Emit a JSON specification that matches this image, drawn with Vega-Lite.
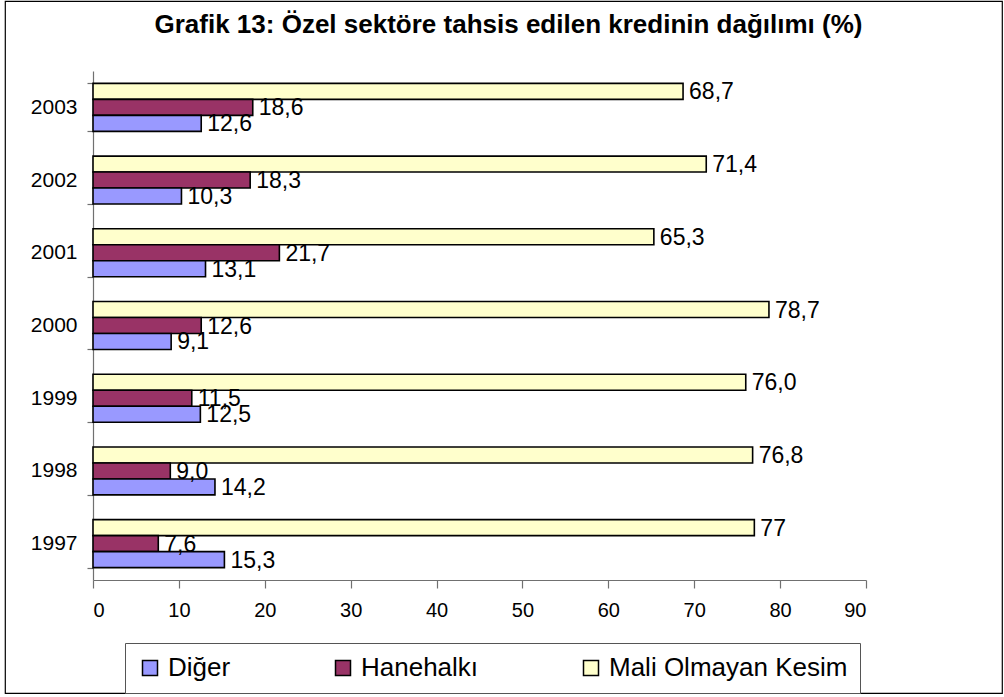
{
  "$schema": "https://vega.github.io/schema/vega-lite/v6.json",
  "width": 997,
  "height": 692,
  "autosize": {"type": "none"},
  "padding": {"left": 5, "top": 1, "right": 2, "bottom": 4},
  "background": "white",
  "title": {
    "text": "Grafik 13: Özel sektöre tahsis edilen kredinin dağılımı (%)",
    "font": "Liberation Sans",
    "fontSize": 26,
    "fontWeight": "bold",
    "color": "black",
    "anchor": "middle",
    "frame": "group",
    "baseline": "top",
    "offset": -48,
    "dx": 5
  },
  "config": {
    "view": {"stroke": "black", "strokeWidth": 1.2, "fill": "white"},
    "font": "Liberation Sans"
  },
  "data": {
    "values": [
      {"year": "2003", "seri": "Mali Olmayan Kesim", "value": 68.7, "label": "68,7"},
      {"year": "2003", "seri": "Hanehalkı", "value": 18.6, "label": "18,6"},
      {"year": "2003", "seri": "Diğer", "value": 12.6, "label": "12,6"},
      {"year": "2002", "seri": "Mali Olmayan Kesim", "value": 71.4, "label": "71,4"},
      {"year": "2002", "seri": "Hanehalkı", "value": 18.3, "label": "18,3"},
      {"year": "2002", "seri": "Diğer", "value": 10.3, "label": "10,3"},
      {"year": "2001", "seri": "Mali Olmayan Kesim", "value": 65.3, "label": "65,3"},
      {"year": "2001", "seri": "Hanehalkı", "value": 21.7, "label": "21,7"},
      {"year": "2001", "seri": "Diğer", "value": 13.1, "label": "13,1"},
      {"year": "2000", "seri": "Mali Olmayan Kesim", "value": 78.7, "label": "78,7"},
      {"year": "2000", "seri": "Hanehalkı", "value": 12.6, "label": "12,6"},
      {"year": "2000", "seri": "Diğer", "value": 9.1, "label": "9,1"},
      {"year": "1999", "seri": "Mali Olmayan Kesim", "value": 76.0, "label": "76,0"},
      {"year": "1999", "seri": "Hanehalkı", "value": 11.5, "label": "11,5"},
      {"year": "1999", "seri": "Diğer", "value": 12.5, "label": "12,5"},
      {"year": "1998", "seri": "Mali Olmayan Kesim", "value": 76.8, "label": "76,8"},
      {"year": "1998", "seri": "Hanehalkı", "value": 9.0, "label": "9,0"},
      {"year": "1998", "seri": "Diğer", "value": 14.2, "label": "14,2"},
      {"year": "1997", "seri": "Mali Olmayan Kesim", "value": 77, "label": "77"},
      {"year": "1997", "seri": "Hanehalkı", "value": 7.6, "label": "7,6"},
      {"year": "1997", "seri": "Diğer", "value": 15.3, "label": "15,3"}
    ]
  },
  "encoding": {
    "y": {
      "field": "year",
      "type": "nominal",
      "sort": "descending",
      "scale": {"range": [70, 579], "paddingInner": 0.34, "paddingOuter": 0.17},
      "axis": {
        "title": null,
        "offset": -88,
        "tickBand": "extent",
        "tickSize": 6,
        "labelPadding": 10,
        "labelFontSize": 21,
        "labelColor": "black",
        "labelFont": "Liberation Sans",
        "domainColor": "#707070",
        "tickColor": "#707070",
        "domainWidth": 1.2,
        "tickWidth": 1.2,
        "grid": false
      }
    },
    "yOffset": {
      "field": "seri",
      "type": "nominal",
      "sort": ["Mali Olmayan Kesim", "Hanehalkı", "Diğer"]
    },
    "x": {
      "field": "value",
      "type": "quantitative",
      "scale": {"domain": [0, 90], "range": [88, 861], "nice": false},
      "axis": {
        "title": null,
        "offset": -113,
        "values": [0, 10, 20, 30, 40, 50, 60, 70, 80, 90],
        "tickSize": 8,
        "labelPadding": 12,
        "labelFontSize": 20,
        "labelColor": "black",
        "labelFont": "Liberation Sans",
        "domainColor": "#707070",
        "tickColor": "#707070",
        "domainWidth": 1.2,
        "tickWidth": 1.2,
        "grid": false
      }
    }
  },
  "layer": [
    {
      "mark": {"type": "bar", "stroke": "black", "strokeWidth": 1.6, "cornerRadius": 0},
      "encoding": {
        "color": {
          "field": "seri",
          "type": "nominal",
          "scale": {
            "domain": ["Diğer", "Hanehalkı", "Mali Olmayan Kesim"],
            "range": ["#9999FF", "#993366", "#FFFFCC"]
          },
          "legend": {
            "orient": "none",
            "legendX": 120,
            "legendY": 642,
            "direction": "horizontal",
            "title": null,
            "padding": 12,
            "strokeColor": "#555555",
            "fillColor": "white",
            "symbolType": "square",
            "symbolSize": 225,
            "symbolStrokeColor": "black",
            "symbolStrokeWidth": 1.5,
            "symbolOpacity": 1,
            "labelFontSize": 26,
            "labelFont": "Liberation Sans",
            "labelColor": "black",
            "labelOffset": 5,
            "labelLimit": 500,
            "columnPadding": 99
          }
        }
      }
    },
    {
      "mark": {"type": "text", "align": "left", "baseline": "middle", "dx": 6, "dy": 1, "fontSize": 23, "font": "Liberation Sans", "color": "black"},
      "encoding": {
        "text": {"field": "label", "type": "nominal"}
      }
    }
  ]
}
